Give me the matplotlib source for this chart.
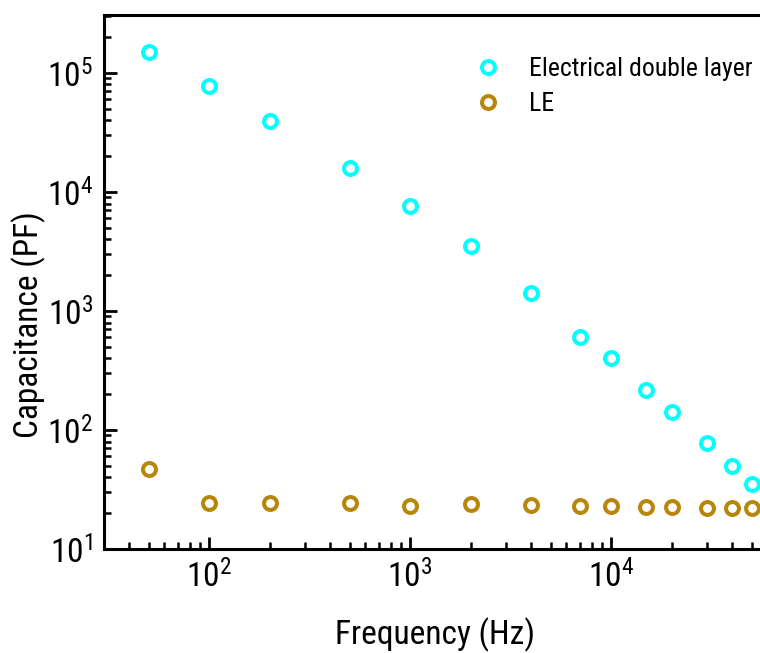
import matplotlib
matplotlib.use("Agg")
import matplotlib.pyplot as plt

# Frequency sweep (Hz)
freq = [50, 100, 200, 500, 1000, 2000, 4000, 7000, 10000, 15000, 20000, 30000, 40000, 50000]

# Capacitance (PF)
edl_cap = [1.5e5, 7.8e4, 3.95e4, 1.6e4, 7.6e3, 3.5e3, 1.42e3, 6.0e2, 4.0e2, 2.17e2, 1.42e2, 78, 50, 35]
le_cap = [47, 24.4, 24.4, 24.4, 23, 24, 23.5, 23, 23, 22.5, 22.5, 22, 22, 22]

series_names = ["Electrical double layer", "LE"]
series_colors = ["#00FFFF", "#B8860B"]
x_ticks = [1e2, 1e3, 1e4]

plt.rcParams["font.family"] = ["Roboto Condensed", "DejaVu Sans"]
plt.rcParams["mathtext.fontset"] = "custom"
plt.rcParams["mathtext.rm"] = "Roboto Condensed"
plt.rcParams["mathtext.it"] = "Roboto Condensed:italic"

fig = plt.figure(figsize=(7.6, 6.53), dpi=100)
ax = fig.add_axes([104 / 760, 104 / 653, 708 / 760, 534 / 653])

for vals, name, col in zip([edl_cap, le_cap], series_names, series_colors):
    ax.plot(freq, vals, linestyle="none", marker="o", markersize=9.3,
            markerfacecolor="white", markeredgecolor=col, markeredgewidth=2.9,
            label=name)

ax.set_xscale("log")
ax.set_yscale("log")
ax.set_xlim(30, 1e5)
ax.set_ylim(10, 10 ** 5.487)
ax.set_xticks(x_ticks)

for side in ["left", "bottom", "top"]:
    ax.spines[side].set_linewidth(2.2)
ax.spines["right"].set_visible(False)

ax.tick_params(which="both", direction="in", top=False, right=False,
               labelsize=24, width=2.0, pad=8)
ax.tick_params(which="major", length=9)
ax.tick_params(which="minor", length=5, width=1.8)

ax.set_xlabel("Frequency (Hz)", fontsize=24)
ax.xaxis.set_label_coords(0.4675, -0.128)
ax.set_ylabel("Capacitance (PF)", fontsize=24)
ax.yaxis.set_label_coords(-0.082, 0.42)

leg = ax.legend(loc="upper left", bbox_to_anchor=(0.51, 0.94), frameon=False,
                fontsize=18.5, handletextpad=1.1, labelspacing=0.4,
                handlelength=1.0, borderaxespad=0)

fig.savefig("out.png", dpi=100)
